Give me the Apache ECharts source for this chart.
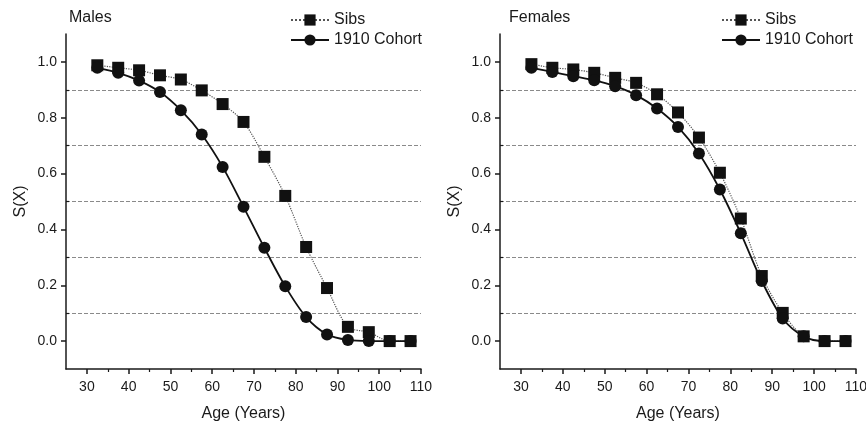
<!DOCTYPE html>
<html>
<head>
<meta charset="utf-8">
<script src="https://cdn.jsdelivr.net/npm/echarts@6/dist/echarts.min.js"></script>
<style>
  html, body { margin: 0; padding: 0; background: #fff; }
  #chart { width: 866px; height: 422px; }
</style>
</head>
<body>
<div id="chart"></div>
<script>
// age group midpoints
var ages = [32.5, 37.5, 42.5, 47.5, 52.5, 57.5, 62.5, 67.5, 72.5, 77.5, 82.5, 87.5, 92.5, 97.5, 102.5, 107.5];

var malesSibs   = [0.988, 0.979, 0.970, 0.952, 0.937, 0.898, 0.849, 0.785, 0.660, 0.520, 0.337, 0.190, 0.051, 0.032, 0.0, 0.0];
var malesCohort = [0.979, 0.961, 0.933, 0.892, 0.827, 0.740, 0.624, 0.481, 0.334, 0.196, 0.086, 0.024, 0.004, 0.0, 0.0, 0.0];

var femalesSibs   = [0.992, 0.979, 0.973, 0.961, 0.943, 0.925, 0.884, 0.819, 0.729, 0.603, 0.439, 0.233, 0.101, 0.017, 0.0, 0.0];
var femalesCohort = [0.979, 0.964, 0.949, 0.934, 0.913, 0.881, 0.833, 0.767, 0.672, 0.543, 0.386, 0.215, 0.081, 0.017, 0.0, 0.0];

var xMajor = [30, 40, 50, 60, 70, 80, 90, 100, 110];
var xMinor = [35, 45, 55, 65, 75, 85, 95, 105];
var yMajor = [0.0, 0.2, 0.4, 0.6, 0.8, 1.0];
var yMinor = [0.1, 0.3, 0.5, 0.7, 0.9];

var font = 'Liberation Sans, Arial, sans-serif';
var ink = '#1a1a1a';

function pairs(vals) {
  return ages.map(function (a, i) { return [a, vals[i]]; });
}

function xAxes(gridIndex) {
  return [{
    type: 'value', gridIndex: gridIndex, min: 25, max: 110,
    name: 'Age (Years)', nameLocation: 'middle', nameGap: 37,
    nameTextStyle: { fontFamily: font, fontSize: 16, color: ink },
    axisLine: { onZero: false, lineStyle: { color: ink, width: 1.5 } },
    axisTick: { show: true, length: 5, customValues: xMajor, lineStyle: { color: ink, width: 1.5 } },
    axisLabel: { customValues: xMajor, margin: 11, fontFamily: font, fontSize: 14, color: ink },
    splitLine: { show: false }
  }, {
    type: 'value', gridIndex: gridIndex, min: 25, max: 110, position: 'bottom',
    axisLine: { show: false, onZero: false },
    axisTick: { show: true, length: 3, customValues: xMinor, lineStyle: { color: ink, width: 1.2 } },
    axisLabel: { show: false },
    splitLine: { show: false }
  }];
}

function yAxes(gridIndex) {
  return [{
    type: 'value', gridIndex: gridIndex, min: -0.1, max: 1.1,
    name: 'S(X)', nameLocation: 'middle', nameGap: 37, nameRotate: 90,
    nameTextStyle: { fontFamily: font, fontSize: 16, color: ink },
    axisLine: { show: true, onZero: false, lineStyle: { color: ink, width: 1.5 } },
    axisTick: { show: true, length: 5, customValues: yMajor, lineStyle: { color: ink, width: 1.5 } },
    axisLabel: { customValues: yMajor, margin: 9, fontFamily: font, fontSize: 14, color: ink,
      formatter: function (v) { return v.toFixed(1); } },
    splitLine: { show: false }
  }, {
    type: 'value', gridIndex: gridIndex, min: -0.1, max: 1.1, position: 'left', offset: 0,
    axisLine: { show: false, onZero: false },
    axisTick: { show: true, inside: true, length: 3, customValues: yMinor, lineStyle: { color: ink, width: 1.2 } },
    axisLabel: { show: false },
    splitLine: { show: true, lineStyle: { color: '#8a8a8a', width: 1, type: [4, 2] } }
  }];
}

function sibs(name, vals, axisIndex) {
  return {
    name: name, type: 'line', data: pairs(vals),
    xAxisIndex: axisIndex, yAxisIndex: axisIndex,
    smooth: 0.3, symbol: 'rect', symbolSize: 12,
    lineStyle: { color: '#555', width: 1.2, type: 'dotted' },
    itemStyle: { color: '#111' }, z: 3
  };
}
function cohort(name, vals, axisIndex) {
  return {
    name: name, type: 'line', data: pairs(vals),
    xAxisIndex: axisIndex, yAxisIndex: axisIndex,
    smooth: 0.3, symbol: 'circle', symbolSize: 12,
    lineStyle: { color: '#111', width: 1.8, type: 'solid' },
    itemStyle: { color: '#111' }, z: 4
  };
}

var legendBase = {
  orient: 'vertical', top: 12, padding: 0, itemWidth: 38, itemHeight: 14, itemGap: 4,
  textStyle: { fontFamily: font, fontSize: 16, color: ink },
  data: ['Sibs', '1910 Cohort']
};

var option = {
  animation: false,
  backgroundColor: '#fff',
  title: [
    { text: 'Males', left: 69, top: 10, padding: 0, textStyle: { fontFamily: font, fontSize: 16, fontWeight: 'normal', color: ink } },
    { text: 'Females', left: 509, top: 10, padding: 0, textStyle: { fontFamily: font, fontSize: 16, fontWeight: 'normal', color: ink } }
  ],
  legend: [
    Object.assign({}, legendBase, { left: 290 }),
    Object.assign({}, legendBase, { left: 721 })
  ],
  grid: [
    { left: 66, top: 34, width: 355, height: 335, outerBoundsMode: 'none' },
    { left: 500, top: 34, width: 356, height: 335, outerBoundsMode: 'none' }
  ],
  xAxis: xAxes(0).concat(xAxes(1)),
  yAxis: yAxes(0).concat(yAxes(1)),
  series: [
    sibs('Sibs', malesSibs, 0),
    cohort('1910 Cohort', malesCohort, 0),
    sibs('Sibs', femalesSibs, 2),
    cohort('1910 Cohort', femalesCohort, 2)
  ]
};

var chart = echarts.init(document.getElementById('chart'), null, { renderer: 'canvas' });
chart.setOption(option);
</script>
</body>
</html>
